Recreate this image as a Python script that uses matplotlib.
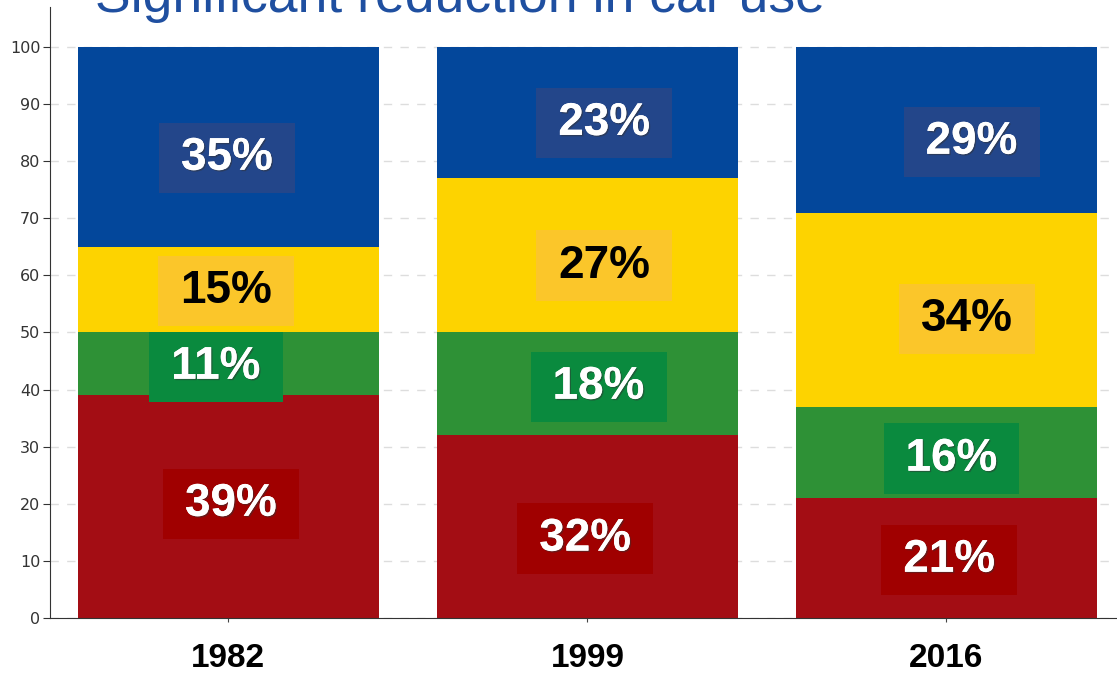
import matplotlib
matplotlib.use("Agg")
import matplotlib.pyplot as plt
import matplotlib.patheffects as pe
import numpy as np

years = ["1982", "1999", "2016"]
modes = ["car", "walk", "cycle", "public transport"]
car = [39, 32, 21]
walk = [11, 18, 16]
cycle = [15, 27, 34]
transit = [35, 23, 29]
shares = [car, walk, cycle, transit]

bar_colors = ["#a30d14", "#2e9136", "#fdd300", "#03479b"]
box_colors = ["#a00000", "#0a8a3e", "#fbc62a", "#23468a"]
text_colors = ["white", "white", "black", "white"]

# where each percentage label sits (x offset from bar centre, y in data units)
label_dx = [[0.007, -0.006, 0.008],
            [-0.035, 0.031, 0.014],
            [-0.007, 0.047, 0.056],
            [-0.004, 0.047, 0.07]]
label_y = [[20.0, 13.9, 10.2],
           [44.0, 40.5, 27.9],
           [57.3, 61.7, 52.4],
           [80.6, 86.7, 83.4]]

fig = plt.figure(figsize=(11.17, 6.74), dpi=100)
ax = fig.add_axes([50 / 1117, 56 / 674, 1067 / 1117, 611 / 674])

x = np.arange(len(years))
bottom = np.zeros(len(years))
for vals, col in zip(shares, bar_colors):
    ax.bar(x, vals, 0.836, bottom=bottom, color=col, zorder=2)
    bottom += vals

for i, vals in enumerate(shares):
    for j, v in enumerate(vals):
        t = ax.text(x[j] + label_dx[i][j], label_y[i][j], f"{v}%",
                    ha="center", va="center", fontsize=33, fontweight="bold",
                    family="Liberation Sans", color=text_colors[i], zorder=4,
                    bbox=dict(boxstyle="square,pad=0.48", mutation_aspect=0.6,
                              fc=box_colors[i], ec="none"))
        if text_colors[i] == "white":
            t.set_path_effects([pe.withSimplePatchShadow(offset=(1, -1),
                                                        shadow_rgbFace="#333333",
                                                        alpha=0.5),
                                pe.Normal()])

ax.set_xlim(-0.497, 2.475)
ax.set_ylim(0, 107)
ax.set_yticks(range(0, 101, 10))
ax.set_xticks(x)
ax.set_xticklabels(years, fontsize=24, fontweight="bold", family="Liberation Sans")
ax.tick_params(axis="x", length=3, pad=15, color="#444444")
ax.tick_params(axis="y", length=5, labelsize=11.5, colors="#333333", pad=2)
ax.grid(axis="y", color="#dddddd", linestyle=(0, (6, 6)), linewidth=1, zorder=0)
for s in ["top", "right"]:
    ax.spines[s].set_visible(False)
ax.spines["left"].set_color("#333333")
ax.spines["bottom"].set_color("#333333")

fig.text(95 / 1117, 1 - 12 / 674, "Significant reduction in car use",
         fontsize=38.5, color="#1f4fa0", family="Liberation Sans",
         ha="left", va="baseline")

fig.savefig("out.png", dpi=100)
